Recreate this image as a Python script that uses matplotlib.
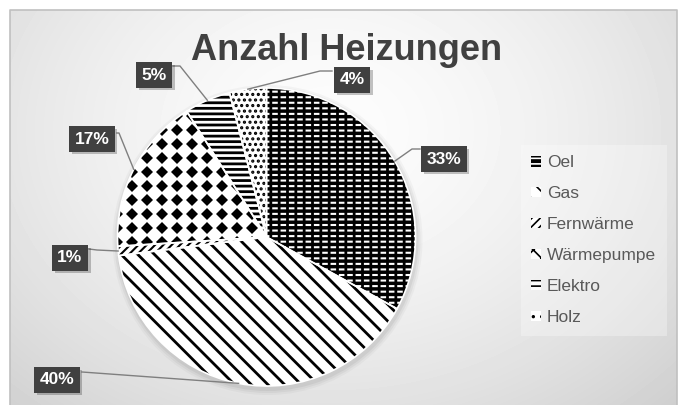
import numpy as np
import matplotlib.pyplot as plt
from matplotlib.patches import Patch, Circle
import matplotlib.patheffects as pe

plt.rcParams['font.family'] = ['Liberation Sans', 'DejaVu Sans']

# Daten
categories = ['Oel', 'Gas', 'Fernwärme', 'Wärmepumpe', 'Elektro', 'Holz']
shares = [33, 40, 1, 17, 5, 4]
pct_labels = ['33%', '40%', '1%', '17%', '5%', '4%']

# Muster pro Segment (Fläche, Schraffurfarbe, Schraffur, Linienbreite)
faces = ['black', 'white', 'white', 'white', 'white', 'white']
hatch_colors = ['white', 'black', 'black', 'black', 'black', 'black']
hatches = ['---', '\\\\', '////', '', '---', '...']
hatch_lws = [1.5, 2.0, 1.5, 1.0, 2.0, 1.5]
legend_hatches = ['---', '\\\\', '////', 'xx', '---', '..']

# Layout in Pixeln (y von oben gezählt)
W, H = 685, 405
center = (266.5, 237)
radius = 149
label_pos = [(444, 159), (57, 380), (70, 258), (92, 139), (154, 75), (352, 80)]
attach = [(420, 149), (82, 372), (89, 249), (117, 133), (173, 66), (332, 71)]
elbow = [(412, 149), (82, 372), (97, 250), (119, 133), (180, 66), (320, 71)]

fig = plt.figure(figsize=(W / 100, H / 100), dpi=100, facecolor='white')
ax = fig.add_axes([0, 0, 1, 1])

# Hintergrund mit weichem Verlauf
yy, xx = np.mgrid[10:H, 10:677]
d = np.hypot((xx - 330) / 420, (yy - 130) / 330)
bg = 0.99 - 0.14 * d ** 1.6
ax.imshow(bg, cmap='gray', vmin=0, vmax=1, extent=(10, 677, H, 10),
          zorder=0, interpolation='bilinear')
ax.plot([10, 10, 677, 677], [H, 10, 10, H], color='#c0c0c0', lw=1.2, zorder=1)

# Schatten unter dem Kreis
for k, a in [(6, 0.05), (4, 0.07), (2, 0.09)]:
    ax.add_patch(Circle((center[0] + 1, center[1] + 3), radius + k,
                        color='#606060', alpha=a, lw=0, zorder=1))

# y-Achse ist invertiert: Start bei -90 Grad + counterclock => oben, im Uhrzeigersinn
wedges, _ = ax.pie(shares, startangle=-90, counterclock=True, center=center,
                   radius=radius, wedgeprops=dict(linewidth=0))
for w, fc, hc, h, hl in zip(wedges, faces, hatch_colors, hatches, hatch_lws):
    w.set_facecolor(fc)
    w.set_edgecolor(hc)
    w.set_hatch(h)
    if hasattr(w, 'set_hatch_linewidth'):
        w.set_hatch_linewidth(hl)
    w.set_zorder(2)

# Oel: weiße Linien durch senkrechte schwarze Schraffur in Striche zerlegen
over, _ = ax.pie(shares, startangle=-90, counterclock=True, center=center,
                 radius=radius, wedgeprops=dict(linewidth=0, facecolor='none'))
for i, o in enumerate(over):
    if i == 0:
        o.set_edgecolor('black')
        o.set_hatch('||')
        if hasattr(o, 'set_hatch_linewidth'):
            o.set_hatch_linewidth(2.0)
        o.set_zorder(2.1)
    else:
        o.set_visible(False)

# Wärmepumpe: Rautenraster, auf das Segment beschnitten
gx, gy = np.meshgrid(np.arange(center[0] - radius, center[0] + radius, 15),
                     np.arange(center[1] - radius, center[1] + radius, 14))
diam, = ax.plot(gx.ravel(), gy.ravel(), 'D', ms=5.9, color='black', mew=0, zorder=2.2)
diam.set_clip_path(wedges[3])

# weiße Trennlinien
sep, _ = ax.pie(shares, startangle=-90, counterclock=True, center=center,
                radius=radius, wedgeprops=dict(facecolor='none', edgecolor='white', linewidth=1.2))
for s in sep:
    s.set_zorder(3)

# Datenbeschriftungen mit Führungslinien
for w, lab, pos, a, e in zip(wedges, pct_labels, label_pos, attach, elbow):
    th = np.deg2rad((w.theta1 + w.theta2) / 2)
    anchor = (center[0] + radius * np.cos(th), center[1] + radius * np.sin(th))
    ax.plot([a[0], e[0], anchor[0]], [a[1], e[1], anchor[1]],
            color='#7f7f7f', lw=1, zorder=4)
    t = ax.text(pos[0], pos[1], lab, ha='center', va='center', fontsize=12.5,
                weight='bold', color='white', zorder=5,
                bbox=dict(boxstyle='square,pad=0.3', fc='#404040', ec='none'))
    t.get_bbox_patch().set_path_effects([pe.SimplePatchShadow(offset=(2, -2), alpha=0.25),
                                         pe.Normal()])

ax.text(347, 60, 'Anzahl Heizungen', ha='center', va='baseline', fontsize=26,
        weight='bold', color='#404040', zorder=5)

handles = [Patch(facecolor=fc, edgecolor=hc, hatch=h, lw=0)
           for fc, hc, h in zip(faces, hatch_colors, legend_hatches)]
leg = ax.legend(handles, categories, loc='upper left', bbox_to_anchor=(521 / W, 1 - 145 / H),
                bbox_transform=fig.transFigure, frameon=True, fancybox=False, fontsize=12.5,
                labelcolor='#595959', handlelength=0.55, handleheight=0.55,
                handletextpad=0.35, labelspacing=0.92, borderpad=0.6, borderaxespad=0)
frame = leg.get_frame()
frame.set_facecolor('white')
frame.set_alpha(0.3)
frame.set_edgecolor('none')
for p in leg.get_patches():
    if hasattr(p, 'set_hatch_linewidth'):
        p.set_hatch_linewidth(1.2)

ax.set_xlim(0, W)
ax.set_ylim(H, 0)
ax.set_aspect('auto')
ax.axis('off')

fig.savefig('out.png', dpi=100)
